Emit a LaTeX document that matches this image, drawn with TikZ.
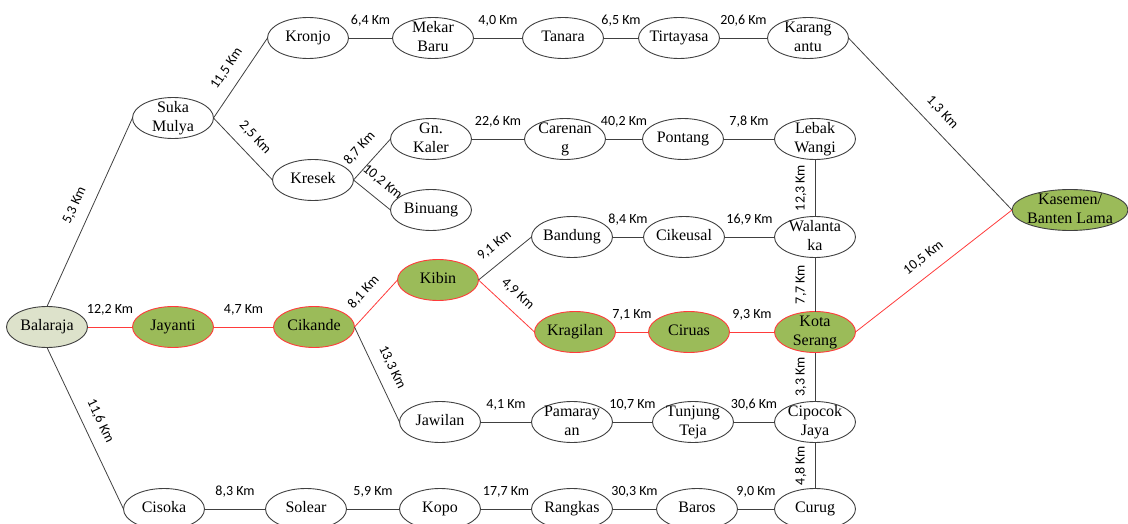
\documentclass[tikz,border=0pt]{standalone}
\usepackage{fontspec}
\newfontfamily\nodefont{Liberation Serif}
\newfontfamily\lblfamily{Carlito}
\usetikzlibrary{shapes.geometric}
\definecolor{edgegray}{HTML}{404040}
\definecolor{routered}{HTML}{FF3B3B}
\definecolor{olivegreen}{HTML}{9BBB59}
\definecolor{startfill}{HTML}{DDE2CB}
\newcommand\pl[1]{\smash{\makebox[0pt]{\raisebox{-4.5pt}{\begin{tabular}{@{}c@{}}#1\end{tabular}}}}}
\tikzset{
  place/.style={ellipse, draw=edgegray, line width=0.9pt, fill=white, minimum width=81pt, minimum height=41pt, inner sep=0pt, outer sep=0pt, font=\nodefont\fontsize{16}{19}\selectfont},
  onroute/.style={place, draw=routered, fill=olivegreen},
  conn/.style={draw=edgegray, line width=0.8pt},
  route/.style={draw=routered, line width=0.8pt},
  km/.style={font=\lblfamily\fontsize{14}{16}\selectfont, inner sep=0pt, text depth=0pt, midway, sloped, above=#1},
  km/.default=12.5pt
}
\begin{document}
\begin{tikzpicture}[x=1pt, y=-1pt]
\useasboundingbox (0,0) rectangle (1128,524);
\clip (0,0) rectangle (1128,524);
% nodes
\node[place] (kronjo) at (308,38) {\pl{Kronjo}};
\node[place] (mekar) at (433,38) {\pl{Mekar\\Baru}};
\node[place] (tanara) at (563,38) {\pl{Tanara}};
\node[place] (tirta) at (679,38) {\pl{Tirtayasa}};
\node[place] (karang) at (808,38) {\pl{Karang\\antu}};
\node[place] (suka) at (173,118) {\pl{Suka\\Mulya}};
\node[place] (kresek) at (313,180) {\pl{Kresek}};
\node[place] (gnkaler) at (431,139) {\pl{Gn.\\Kaler}};
\node[place] (carenang) at (565,139) {\pl{Carenan\\g}};
\node[place] (pontang) at (683,139) {\pl{Pontang}};
\node[place] (lebak) at (815,139) {\pl{Lebak\\Wangi}};
\node[place] (binuang) at (431,210) {\pl{Binuang}};
\node[place] (bandung) at (572,237) {\pl{Bandung}};
\node[place] (cikeusal) at (684,237) {\pl{Cikeusal}};
\node[place] (walantaka) at (815,237) {\pl{Walanta\\ka}};
\node[place, fill=olivegreen, minimum width=116pt] (kasemen) at (1070,210) {\pl{Kasemen/\\Banten Lama}};
\node[place, fill=startfill] (balaraja) at (47,327) {\pl{Balaraja}};
\node[onroute] (jayanti) at (173,327) {\pl{Jayanti}};
\node[onroute] (cikande) at (314,327) {\pl{Cikande}};
\node[onroute] (kibin) at (438,280) {\pl{Kibin}};
\node[onroute] (kragilan) at (575,332) {\pl{Kragilan}};
\node[onroute] (ciruas) at (689,332) {\pl{Ciruas}};
\node[onroute] (kota) at (815,332) {\pl{Kota\\Serang}};
\node[place] (jawilan) at (440,422) {\pl{Jawilan}};
\node[place] (pamarayan) at (572,422) {\pl{Pamaray\\an}};
\node[place] (tunjung) at (693,422) {\pl{Tunjung\\Teja}};
\node[place] (cipocok) at (815,422) {\pl{Cipocok\\Jaya}};
\node[place] (cisoka) at (164,509) {\pl{Cisoka}};
\node[place] (solear) at (306,509) {\pl{Solear}};
\node[place] (kopo) at (440,509) {\pl{Kopo}};
\node[place] (rangkas) at (572,509) {\pl{Rangkas}};
\node[place] (baros) at (697,509) {\pl{Baros}};
\node[place] (curug) at (815,509) {\pl{Curug}};
% grey connectors
\path[conn] (balaraja.north) -- node[km] {5,3 Km} (suka.west);
\path[conn] (suka.east) -- node[km] {11,5 Km} (kronjo.west);
\path[conn] (suka.east) -- node[km] {2,5 Km} (kresek.west);
\path[conn] (kronjo.east) -- node[km=13pt] {6,4 Km} (mekar.west);
\path[conn] (mekar.east) -- node[km=13pt] {4,0 Km} (tanara.west);
\path[conn] (tanara.east) -- node[km=13pt] {6,5 Km} (tirta.west);
\path[conn] (tirta.east) -- node[km=13pt] {20,6 Km} (karang.west);
\path[conn] (karang.east) -- node[km] {1,3 Km} (kasemen.west);
\path[conn] (kresek.east) -- node[km] {8,7 Km} (gnkaler.west);
\path[conn] (kresek.east) -- node[km] {10,2 Km} (binuang.west);
\path[conn] (gnkaler.east) -- node[km=13pt] {22,6 Km} (carenang.west);
\path[conn] (carenang.east) -- node[km=13pt] {40,2 Km} (pontang.west);
\path[conn] (pontang.east) -- node[km=13pt] {7,8 Km} (lebak.west);
\path[conn] (walantaka.north) -- node[km=10pt] {12,3 Km} (lebak.south);
\path[conn] (kota.north) -- node[km=10pt] {7,7 Km} (walantaka.south);
\path[conn] (cipocok.north) -- node[km=10pt] {3,3 Km} (kota.south);
\path[conn] (curug.north) -- node[km=10pt] {4,8 Km} (cipocok.south);
\path[conn] (kibin.east) -- node[km] {9,1 Km} (bandung.west);
\path[conn] (bandung.east) -- node[km=13pt] {8,4 Km} (cikeusal.west);
\path[conn] (cikeusal.east) -- node[km=13pt] {16,9 Km} (walantaka.west);
\path[conn] (cikande.east) -- node[km] {13,3 Km} (jawilan.west);
\path[conn] (jawilan.east) -- node[km=13pt] {4,1 Km} (pamarayan.west);
\path[conn] (pamarayan.east) -- node[km=13pt] {10,7 Km} (tunjung.west);
\path[conn] (tunjung.east) -- node[km=13pt] {30,6 Km} (cipocok.west);
\path[conn] (balaraja.south) -- node[km] {11,6 Km} (cisoka.west);
\path[conn] (cisoka.east) -- node[km=13pt] {8,3 Km} (solear.west);
\path[conn] (solear.east) -- node[km=13pt] {5,9 Km} (kopo.west);
\path[conn] (kopo.east) -- node[km=13pt] {17,7 Km} (rangkas.west);
\path[conn] (rangkas.east) -- node[km=13pt] {30,3 Km} (baros.west);
\path[conn] (baros.east) -- node[km=13pt] {9,0 Km} (curug.west);
% red route
\path[route] (balaraja.east) -- node[km=13pt] {12,2 Km} (jayanti.west);
\path[route] (jayanti.east) -- node[km=13pt] {4,7 Km} (cikande.west);
\path[route] (cikande.east) -- node[km] {8,1 Km} (kibin.west);
\path[route] (kibin.east) -- node[km] {4,9 Km} (kragilan.west);
\path[route] (kragilan.east) -- node[km=13pt] {7,1 Km} (ciruas.west);
\path[route] (ciruas.east) -- node[km=13pt] {9,3 Km} (kota.west);
\path[route] (kota.east) -- node[km] {10,5 Km} (kasemen.west);
\end{tikzpicture}
\end{document}
